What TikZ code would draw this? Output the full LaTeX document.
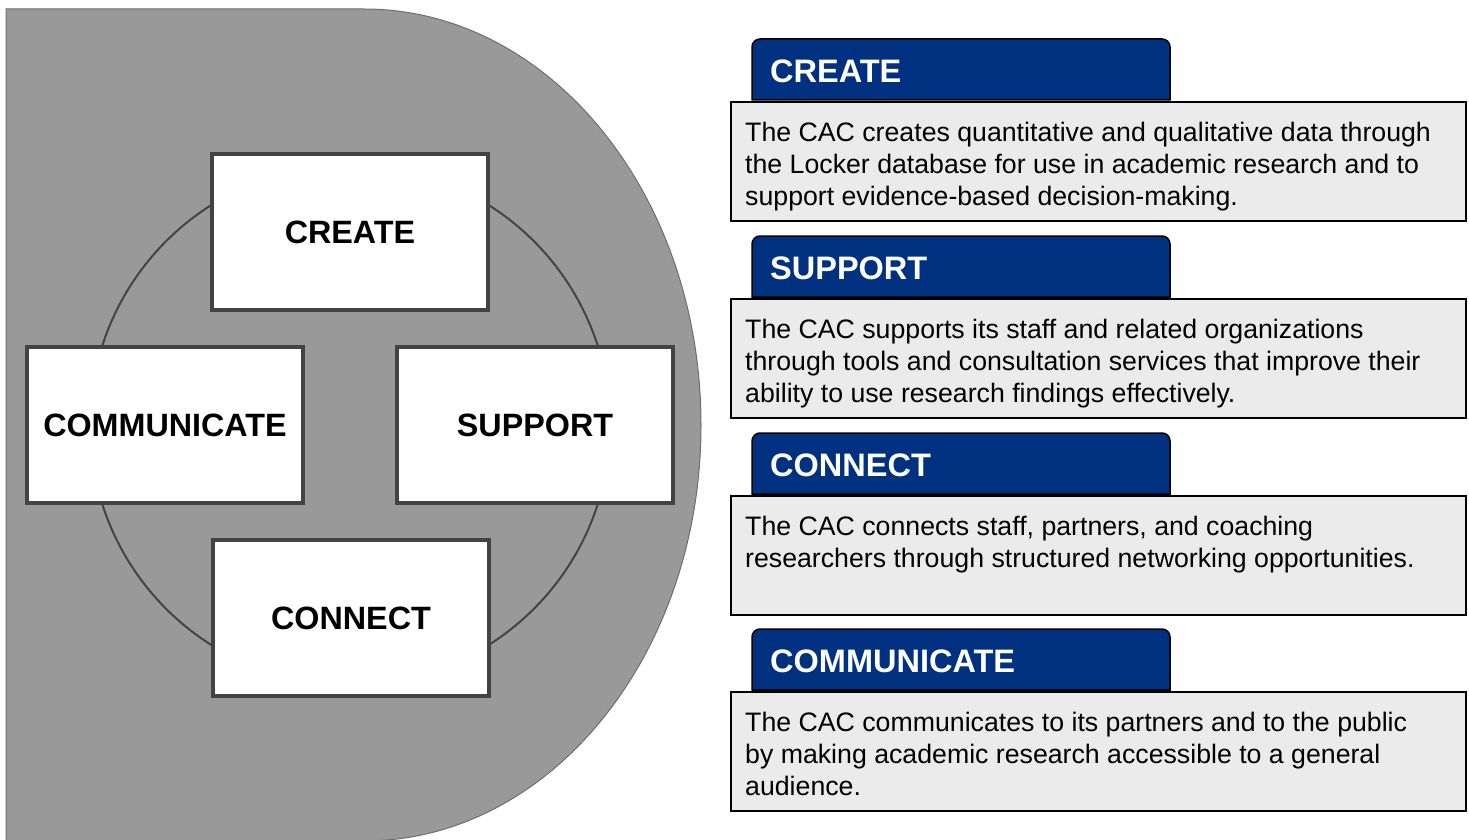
\documentclass[tikz,border=0pt]{standalone}
\usepackage{fontspec}
\setmainfont{Liberation Sans}
\definecolor{shapegray}{RGB}{153,153,153}
\definecolor{shapeedge}{RGB}{110,110,110}
\definecolor{ringcol}{RGB}{68,68,68}
\definecolor{boxedge}{RGB}{67,67,67}
\definecolor{navy}{RGB}{0,48,128}
\definecolor{panelfill}{RGB}{235,235,235}
\tikzset{
  cyclebox/.style={draw=boxedge, fill=white, line width=4pt, minimum width=276pt, minimum height=156pt, inner sep=0pt,
    font=\bfseries\fontsize{32.3}{38}\selectfont, text=black},
  tabshape/.style={fill=navy, draw=black, line width=1.5pt},
  tabtext/.style={anchor=west, inner sep=0pt, text=white, font=\bfseries\fontsize{32.5}{38}\selectfont},
  panelbox/.style={draw=black, fill=panelfill, line width=2.2pt, minimum width=735pt, minimum height=119pt, inner sep=0pt, anchor=north west},
  paneltext/.style={anchor=north west, inner sep=0pt, align=left, text=black, font=\fontsize{26.7}{32}\selectfont},
}
\begin{document}
\begin{tikzpicture}[x=1pt,y=-1pt]
\useasboundingbox (0,0) rectangle (1469,840);
% big gray shape
\fill[shapegray, draw=shapeedge, line width=1pt] (6,9) -- (364,9) arc[start angle=-90, end angle=90, x radius=337, y radius=416] -- (6,841) -- cycle;
% ring
\draw[ringcol, line width=2pt] (350,425) circle[radius=260];
% cycle boxes
\node[cyclebox] (create) at (350,232) {CREATE};
\node[cyclebox] (communicate) at (165,425) {COMMUNICATE};
\node[cyclebox] (support) at (535,425) {SUPPORT};
\node[cyclebox] (connect) at (351,618) {CONNECT};
% panel 1
\path[tabshape] (752,100) [rounded corners=8pt] -- (752,39) -- (1170,39) [sharp corners] -- (1170,100) -- cycle;
\node[tabtext] (h1) at (770,71) {CREATE};
\node[panelbox] (p1) at (730,101) {};
\node[paneltext] (t1) at (745,122) {The CAC creates quantitative and qualitative data through\\the Locker database for use in academic research and to\\support evidence-based decision-making.};
% panel 2
\path[tabshape] (752,297) [rounded corners=8pt] -- (752,236) -- (1170,236) [sharp corners] -- (1170,297) -- cycle;
\node[tabtext] (h2) at (770,268) {SUPPORT};
\node[panelbox] (p2) at (730,298) {};
\node[paneltext] (t2) at (745,319) {The CAC supports its staff and related organizations\\through tools and consultation services that improve their\\ability to use research findings effectively.};
% panel 3
\path[tabshape] (752,494) [rounded corners=8pt] -- (752,433) -- (1170,433) [sharp corners] -- (1170,494) -- cycle;
\node[tabtext] (h3) at (770,465) {CONNECT};
\node[panelbox] (p3) at (730,495) {};
\node[paneltext] (t3) at (745,516) {The CAC connects staff, partners, and coaching\\researchers through structured networking opportunities.};
% panel 4
\path[tabshape] (752,690) [rounded corners=8pt] -- (752,629) -- (1170,629) [sharp corners] -- (1170,690) -- cycle;
\node[tabtext] (h4) at (770,661) {COMMUNICATE};
\node[panelbox] (p4) at (730,691) {};
\node[paneltext] (t4) at (745,712) {The CAC communicates to its partners and to the public\\by making academic research accessible to a general\\audience.};
\end{tikzpicture}
\end{document}
